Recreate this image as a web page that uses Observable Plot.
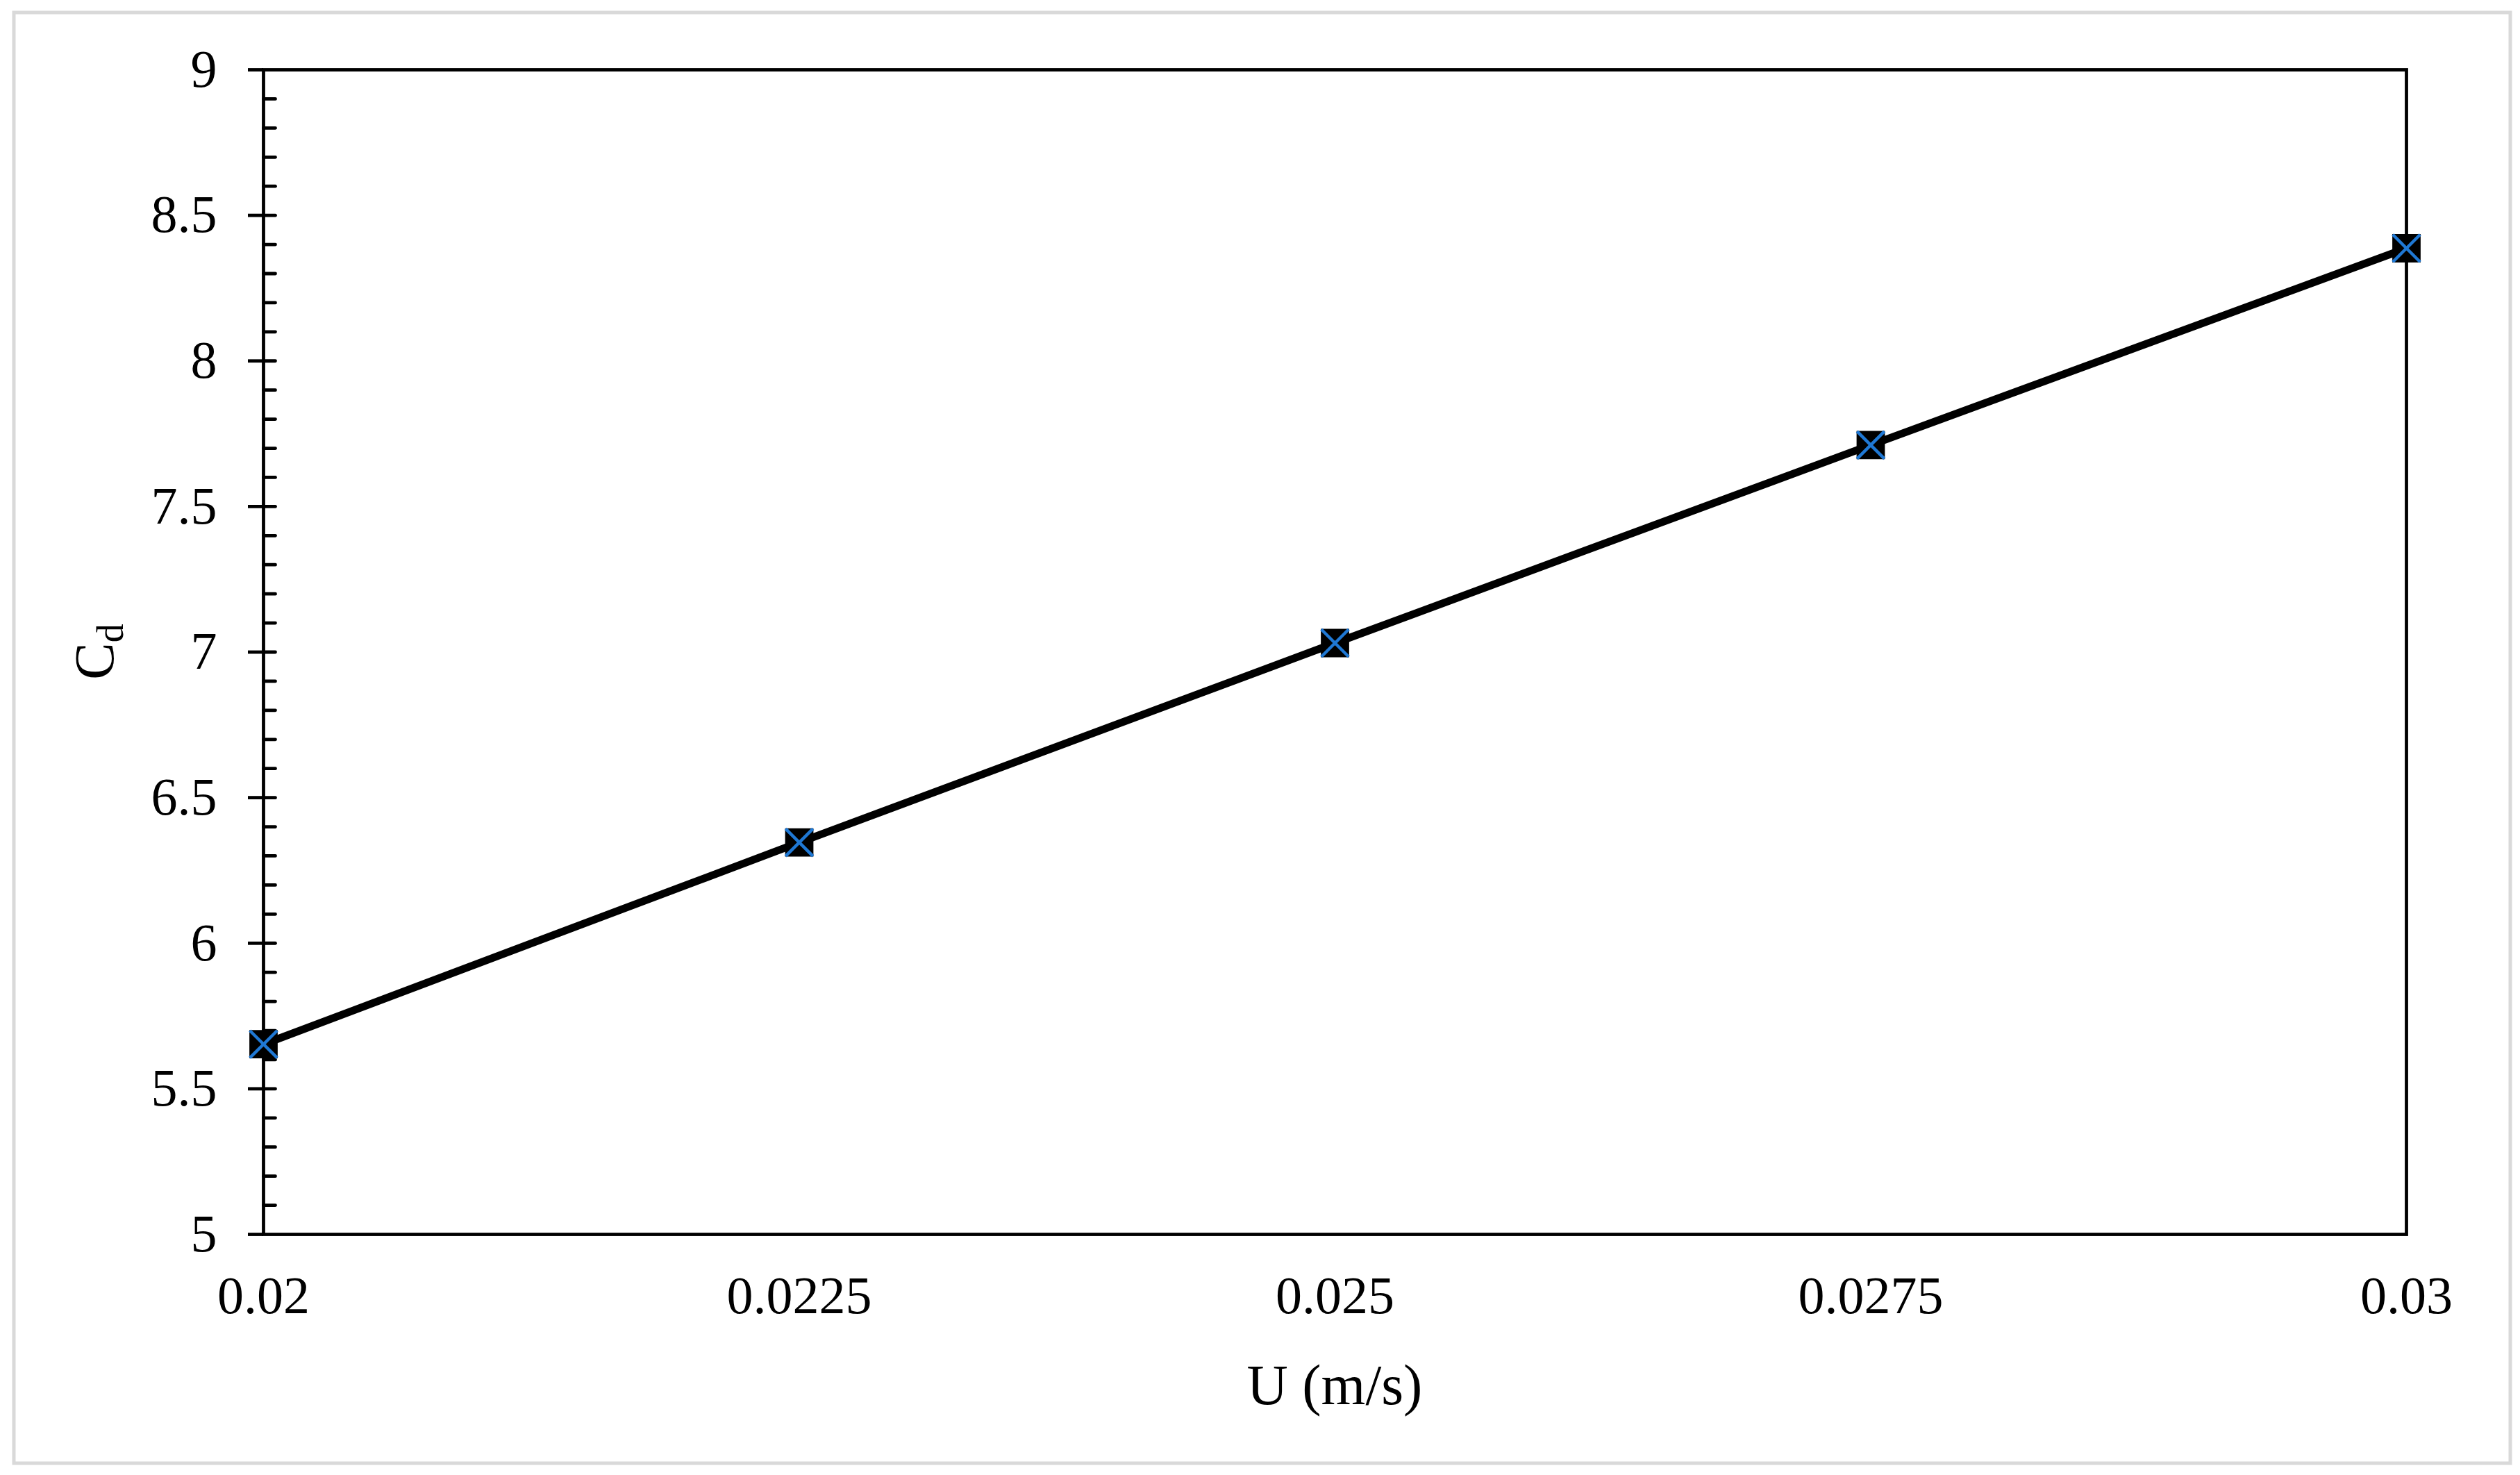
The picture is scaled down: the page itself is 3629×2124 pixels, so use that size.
<!DOCTYPE html>
<html><head><meta charset="utf-8">
<script src="https://cdn.jsdelivr.net/npm/d3@7"></script>
<script src="https://cdn.jsdelivr.net/npm/@observablehq/plot@0.6"></script>
<style>html,body{margin:0;padding:0;background:#fff;overflow:hidden}svg{display:block}</style>
</head><body><div id="chart"></div>
<script>
const velocity = [0.02, 0.0225, 0.025, 0.0275, 0.03];
const dragCoeff = [5.653, 6.346, 7.031, 7.711, 8.387];
const xTicks = [0.02, 0.0225, 0.025, 0.0275, 0.03];
const yTicks = [5, 5.5, 6, 6.5, 7, 7.5, 8, 8.5, 9];
const yMinorTicks = d3.range(51, 90).map(v => v / 10);
const xLabel = "U (m/s)";
const yLabelMain = "C", yLabelSub = "d";

const data = velocity.map((u, i) => ({u, cd: dragCoeff[i]}));
const W = 3629, H = 2124;
const mL = 379, mR = 164, mT = 100, mB = 347;
const font = "'Liberation Serif', 'Times New Roman', serif";

const inwardTick = {draw(context, l) { context.moveTo(0, 0); context.lineTo(0, -l); }};

const chart = Plot.plot({
  width: W, height: H,
  marginLeft: mL, marginRight: mR, marginTop: mT, marginBottom: mB,
  style: {fontFamily: font, fontSize: "76px", color: "black", background: "white"},
  x: {domain: [xTicks[0], xTicks[xTicks.length - 1]]},
  y: {domain: [yTicks[0], yTicks[yTicks.length - 1]]},
  marks: [
    Plot.vectorY(yMinorTicks, {frameAnchor: "left", anchor: "start", rotate: 90, length: 17, shape: inwardTick, stroke: "black", strokeWidth: 4.8}),
    Plot.axisY({ticks: yTicks, tickSize: 22, tickPadding: 45, tickFormat: d => String(d), strokeWidth: 4.8, label: null, fontSize: 76}),
    Plot.axisX({ticks: xTicks, tickSize: 0, tickPadding: 60, tickFormat: d => String(d), label: null, fontSize: 76}),
    Plot.frame({stroke: "black", strokeWidth: 4.8}),
    Plot.line(data, {x: "u", y: "cd", stroke: "black", strokeWidth: 11}),
    Plot.dot(data, {x: "u", y: "cd", symbol: "square", r: 23, fill: "black", stroke: "none"}),
    Plot.dot(data, {x: "u", y: "cd", symbol: "times", r: 18, stroke: "#1f78d4", strokeWidth: 4.5})
  ]
});

const svg = d3.select(chart);
svg.append("rect").attr("x", 20).attr("y", 18).attr("width", 3595).attr("height", 2089)
  .attr("fill", "none").attr("stroke", "#d9d9d9").attr("stroke-width", 5);

svg.append("text").attr("x", (mL + W - mR) / 2).attr("y", 2022)
  .attr("text-anchor", "middle").attr("font-family", font).attr("font-size", 82)
  .attr("fill", "black").text(xLabel);

const yl = svg.append("text")
  .attr("transform", `translate(163,${(mT + H - mB) / 2}) rotate(-90)`)
  .attr("text-anchor", "middle").attr("font-family", font).attr("font-size", 80).attr("fill", "black");
yl.append("tspan").text(yLabelMain);
yl.append("tspan").attr("font-size", 54).attr("dy", 14).text(yLabelSub);

document.getElementById("chart").append(chart);
</script>
</body></html>
